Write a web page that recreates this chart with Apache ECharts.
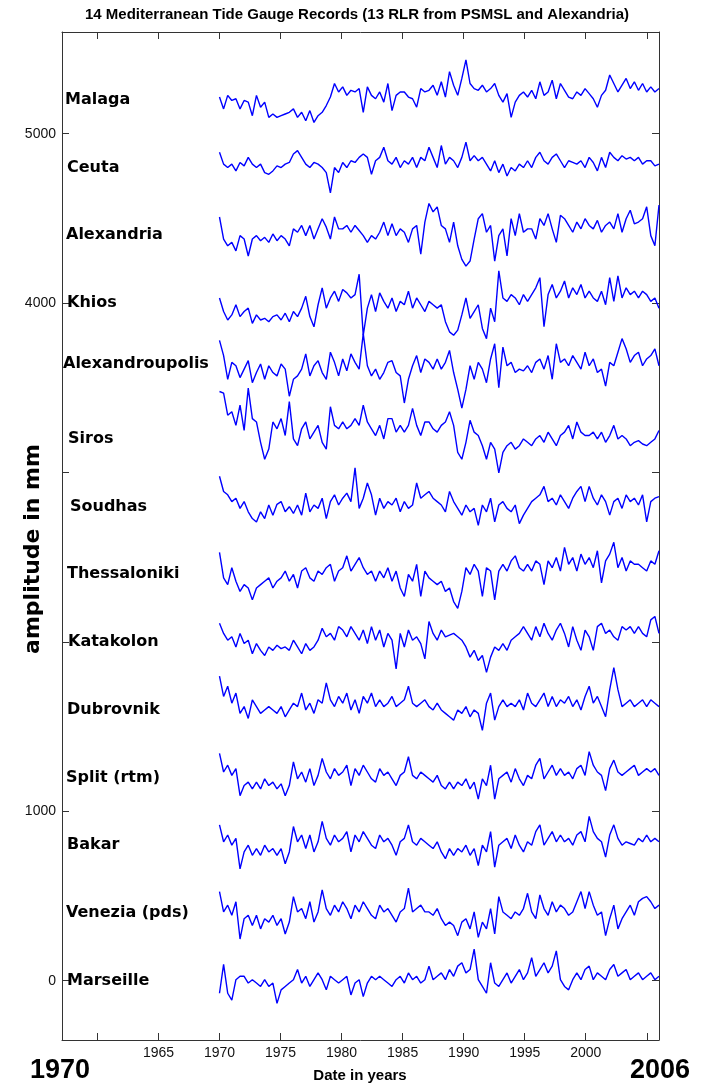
<!DOCTYPE html>
<html>
<head>
<meta charset="utf-8">
<script src="https://cdn.jsdelivr.net/npm/echarts@6/dist/echarts.min.js"></script>
<style>
html,body{margin:0;padding:0;background:#fff;}
#chart{width:704px;height:1086px;}
</style>
</head>
<body>
<div id="chart"></div>
<script>
// Station names (top to bottom) and their vertical offsets in mm
const stations = ["Malaga","Ceuta","Alexandria","Khios","Alexandroupolis","Siros","Soudhas","Thessaloniki","Katakolon","Dubrovnik","Split (rtm)","Bakar","Venezia (pds)","Marseille"];
const offsets = [5200,4800,4400,4000,3640,3200,2800,2400,2000,1600,1200,800,400,0];

// Record span (years) and axis ticks
const startYear = 1970;
const endYear = 2006;
const xTicks = [1960,1965,1970,1975,1980,1985,1990,1995,2000,2005];
const xTickLabels = [1965,1970,1975,1980,1985,1990,1995,2000];
const yTicks = [0,1000,2000,3000,4000,5000];
const yTickLabels = [0,1000,4000,5000];

// Sea-level anomalies (mm), three readings per year, 1970-2006
const malaga = [16,-54,26, -4,6,-54, -4,-14,-94, 26,-44,-14, -104,-84,-104, -94,-84,-74, -54,-104,-74, -124,-64,-134, -94,-74,-34, 16,96,46, 76,26,56, 46,66,-74, 76,26,6, 46,-14,96, -64,26,46, 46,16,6, -44,66,46, 56,86,26, 106,16,166, 86,26,126, 236,96,66, 56,86,46, 66,96,26, -14,36,-104, -14,26,46, 16,56,6, 106,26,46, 116,6,96, 56,16,6, 46,26,66, 36,6,-44, 26,56,146, 96,46,86, 126,66,106, 56,96,46, 76,46,66];
const ceuta = [90,20,0, 20,-20,30, 10,60,20, 0,20,-30, -40,-20,10, 0,20,30, 80,100,60, 20,0,30, 20,0,-30, -150,0,-30, 30,0,40, 30,60,80, 60,-40,40, 60,120,40, 20,60,0, 40,20,60, 0,60,40, 120,60,0, 130,20,60, 40,0,60, 150,40,70, 40,60,20, -20,40,-30, 20,-50,0, -20,20,0, 40,0,60, 90,40,20, 60,80,40, 0,40,30, 20,40,0, 60,30,-20, 60,0,90, 60,40,70, 50,60,40, 60,20,40, 40,10,20];
const alexandria = [108,-22,-62, -42,-92,-2, -22,-122,-22, -2,-32,-12, -42,8,-32, -2,-22,-62, 38,18,58, -2,58,-22, 38,98,48, -22,108,38, 38,58,18, 58,28,-2, -42,-2,-22, 18,78,-2, 68,-2,38, 18,-42,38, 58,-112,78, 188,138,168, 58,38,-42, 78,-62,-142, -182,-152,-22, 98,128,18, 58,-152,-2, 38,-122,98, -2,128,18, 38,38,-22, 98,58,128, 38,-42,118, 98,58,18, 78,38,98, 58,38,88, 18,58,78, 38,128,18, 98,148,68, 78,98,168, -2,-62,178];
const khios = [30,-50,-100, -70,-10,-80, -50,-30,-120, -70,-100,-90, -110,-80,-70, -100,-60,-110, -50,-80,-30, 40,-80,-140, -10,90,-30, 30,70,10, 80,60,30, 50,170,-190, -30,50,-50, 60,10,-30, 30,-50,10, -10,70,-30, 30,-10,-50, 10,-10,-30, -10,-110,-170, -190,-160,-70, 30,-90,-50, -10,-150,-210, -30,-110,190, 30,10,50, 30,-10,50, 10,50,90, 150,-140,50, 110,30,70, 130,30,90, 50,110,30, 70,30,10, 70,-10,150, 10,160,30, 90,50,70, 30,70,50, 10,30,-30];
const alexandroupolis = [140,50,-90, 10,-10,-80, -30,20,-110, -50,0,-90, -10,-50,-70, 0,-30,-190, -90,-70,-30, 60,-70,-10, 20,-50,-90, 70,10,-70, 30,-40,60, 10,-30,180, -10,-70,-30, -90,-50,10, 20,-50,-70, -230,-90,-10, 50,-50,30, 10,-30,30, -30,10,80, -50,-150,-260, -150,-10,-90, 10,-30,-110, 30,120,-140, 100,-10,10, -50,-30,-40, -10,-50,10, 30,-30,50, -90,120,10, 30,-10,50, 10,-30,70, -10,30,-50, -30,-130,10, -10,70,150, 90,10,50, 70,-10,30, 50,90,-10];
const siros = [278,268,138, 158,78,198, 48,298,118, 98,-22,-122, -62,98,58, 118,18,218, -2,-42,58, 98,-2,38, 78,-22,-62, 188,78,58, 98,58,78, 118,78,198, 98,58,18, 78,-2,118, 118,38,78, 38,78,178, 78,18,98, 98,58,38, 78,98,158, 78,-82,-122, -22,108,38, 18,-42,-122, -22,-62,-202, -82,-42,-22, -62,-42,-2, -22,-42,-2, 18,-22,38, -2,-42,18, 38,78,-2, 98,38,18, 18,38,-2, 38,-22,18, 78,-2,18, -2,-42,-22, -12,-32,-42, -22,-2,48];
const soudhas = [178,88,68, 28,48,-12, 28,-32,-72, -92,-32,-72, 8,-52,12, 28,-32,-2, -42,8,-52, 78,-32,8, -12,48,-72, 28,68,8, 48,78,28, 228,-12,48, 138,68,-52, 48,-12,28, 8,48,-32, 28,-12,8, 138,48,68, 88,48,28, 8,-32,88, 28,-12,-52, 8,-32,-12, -112,8,-32, 48,-92,8, 28,-12,-32, 8,-102,-52, -12,28,48, 68,118,28, 48,8,68, 28,-12,48, 88,118,28, 118,48,8, 68,28,-52, 28,48,-12, 68,28,48, 8,68,-92, 28,48,58];
const thessaloniki = [128,-22,-62, 38,-42,-102, -62,-82,-152, -82,-62,-42, -22,-82,-42, -22,18,-42, -2,-82,18, 38,-22,-42, 18,-2,38, 58,-42,18, 38,108,18, 58,98,38, -2,18,-42, 18,-22,38, -42,18,-82, -132,-2,-42, 58,-132,18, -22,-42,-62, -42,-102,-82, -162,-202,-102, 38,-2,58, 18,-132,38, 18,-152,18, 58,18,78, 108,38,18, 58,18,78, 58,-62,78, 38,98,18, 158,58,98, 18,118,58, 98,38,138, -52,78,118, 188,38,98, 18,78,58, 58,38,18, 78,58,138];
const katakolon = [110,50,10, 30,-30,50, -10,10,-70, -10,-50,-80, -30,-50,-20, -40,-30,-50, 10,-30,-70, -10,-50,-30, 10,80,30, 50,10,90, 70,30,90, 50,10,70, -10,90,10, 70,-30,50, 10,-160,50, -30,70,10, 30,-10,-100, 120,50,10, 70,30,40, 50,30,10, -30,-90,-50, -110,-80,-180, -90,-30,-50, -10,-50,10, 30,50,90, 50,10,90, 30,110,50, 10,70,110, 50,-30,90, 10,-50,70, 30,-50,90, 110,50,70, 30,10,90, 70,90,50, 90,50,30, 130,150,50];
const dubrovnik = [198,78,138, 38,98,-22, 18,-52,58, 18,-22,-2, 18,-2,-22, 18,-42,-2, 38,18,98, -2,38,-22, 58,38,158, 58,18,78, 38,98,-2, 58,-22,78, 38,98,18, 58,18,38, 78,18,38, 58,138,38, 18,38,58, 18,-2,38, -2,-22,-42, -62,-2,-22, 18,-42,-2, -22,-122,38, 98,-62,18, 58,18,38, 18,58,-2, 98,38,18, 58,98,18, 78,18,58, 38,78,18, 58,-2,78, 138,38,78, 18,-42,118, 248,118,18, 38,58,18, 38,58,18, 58,38,18];
const split = [142,32,72, 12,52,-108, -48,-28,-68, -28,-68,-8, -48,-28,-68, -38,-108,-48, 92,-8,32, -28,52,-48, 12,112,32, -8,52,12, 32,72,-48, 52,12,72, 32,-8,-28, 52,12,32, -8,-48,12, 32,122,12, -8,32,12, -8,-28,12, -48,-68,-28, -68,-28,-48, -8,-68,-28, -128,-8,-48, 72,-128,-8, 12,32,-28, 52,-8,-48, 12,-8,72, 112,-8,32, 72,12,52, 12,32,-8, 52,72,12, 152,72,32, 12,-78,52, 102,32,12, 32,52,72, 12,32,52, 32,52,12];
const bakar = [120,20,60, 0,40,-140, -40,0,-60, -20,-60,0, -40,-20,-60, -20,-110,-40, 110,20,60, -20,60,-40, 20,140,40, 0,60,20, 40,80,-40, 60,20,80, 40,0,-20, 60,20,40, 0,-60,20, 40,120,20, 0,40,20, 0,-20,20, -40,-80,-20, -60,-20,-40, 0,-60,-20, -120,0,-40, 80,-130,0, 20,40,-20, 60,0,-40, 20,0,80, 120,0,40, 80,20,60, 20,40,0, 60,80,20, 170,80,40, 20,-70,60, 120,40,0, 20,10,0, 40,20,60, 20,40,20];
const venezia = [126,6,46, -14,66,-154, -34,-14,-74, -14,-94,-34, -54,-14,-74, -34,-124,-54, 96,6,26, -34,66,-54, 6,136,26, -14,46,6, 66,26,-34, 46,6,66, 26,-14,-34, 46,6,26, -14,-54,6, 26,146,6, 26,46,6, 6,-14,26, -34,-74,-54, -74,-134,-54, -34,-94,6, -144,-54,-94, 26,-124,96, 6,-14,-34, 6,-14,26, 116,6,-34, 106,26,-14, 66,6,46, 26,-14,6, 66,126,26, 126,46,-14, 6,-134,-34, 46,-94,-34, 6,46,-14, 66,86,96, 66,26,46];
const marseille = [-74,96,-74, -114,6,26, 26,-14,6, -14,-34,6, -34,-14,-134, -54,-34,-14, 6,66,-14, 26,-34,6, 46,6,-54, 26,6,-14, 6,26,-84, -14,6,-94, -14,26,6, 26,6,-14, -34,6,26, -14,46,6, 26,-14,6, 86,6,26, 46,6,66, 26,86,106, 46,66,186, 6,-34,-74, 106,-14,-34, 6,46,-14, 26,66,6, 46,136,26, 66,106,46, 86,176,6, -34,-54,6, 46,6,66, 86,6,46, 26,6,66, 96,26,46, 66,6,26, 46,6,26, 46,6,26];

const records = [malaga, ceuta, alexandria, khios, alexandroupolis, siros, soudhas, thessaloniki, katakolon, dubrovnik, split, bakar, venezia, marseille];

const X_MIN = 1957.1, X_MAX = 2006, Y_MIN = -350, Y_MAX = 5600;
const labelDx = [3,5,4,5,1,6,8,5,6,5,4,5,4,5];

const chart = echarts.init(document.getElementById('chart'), null, {renderer: 'canvas'});

const lineSeries = records.map((vals, s) => {
  const n = vals.length;
  const step = (endYear - startYear) / (n - 1);
  return {
    type: 'line',
    name: stations[s],
    xAxisIndex: 0, yAxisIndex: 0,
    showSymbol: false,
    symbol: 'none',
    silent: true,
    animation: false,
    lineStyle: {color: '#0000ff', width: 1.4},
    data: vals.map((v, i) => [startYear + i * step, offsets[s] + v])
  };
});

const labelSeries = {
  type: 'scatter',
  xAxisIndex: 0, yAxisIndex: 0,
  symbolSize: 0,
  silent: true,
  animation: false,
  itemStyle: {opacity: 1},
  data: stations.map((name, s) => ({
    value: [X_MIN, offsets[s]],
    name: name,
    label: {offset: [labelDx[s], 0]}
  })),
  label: {
    show: true,
    position: 'right',
    distance: 0,
    opacity: 1,
    formatter: p => p.name,
    color: '#000',
    fontFamily: 'DejaVu Sans',
    fontWeight: 'bold',
    fontSize: 16
  }
};

const axisLineStyle = {color: '#333', width: 1};

const option = {
  backgroundColor: '#fff',
  animation: false,
  grid: {left: 62, right: 45, top: 32, bottom: 46, containLabel: false},
  xAxis: [{
    type: 'value', position: 'bottom', min: X_MIN, max: X_MAX,
    axisLine: {show: true, onZero: false, lineStyle: axisLineStyle},
    axisTick: {show: true, inside: true, length: 7, customValues: xTicks, lineStyle: axisLineStyle},
    axisLabel: {show: true, customValues: xTickLabels, margin: 6, color: '#111', fontFamily: 'Liberation Sans Narrow, Liberation Sans, Arial', fontSize: 14, formatter: v => String(v)},
    splitLine: {show: false}
  }, {
    type: 'value', position: 'top', min: X_MIN, max: X_MAX,
    axisLine: {show: true, onZero: false, lineStyle: axisLineStyle},
    axisTick: {show: true, inside: true, length: 7, customValues: xTicks, lineStyle: axisLineStyle},
    axisLabel: {show: false},
    splitLine: {show: false}
  }],
  yAxis: [{
    type: 'value', position: 'left', min: Y_MIN, max: Y_MAX,
    axisLine: {show: true, onZero: false, lineStyle: axisLineStyle},
    axisTick: {show: true, inside: true, length: 7, customValues: yTicks, lineStyle: axisLineStyle},
    axisLabel: {show: true, customValues: yTickLabels, margin: 6, color: '#111', fontFamily: 'Liberation Sans Narrow, Liberation Sans, Arial', fontSize: 14, formatter: v => String(v)},
    splitLine: {show: false}
  }, {
    type: 'value', position: 'right', min: Y_MIN, max: Y_MAX,
    axisLine: {show: true, onZero: false, lineStyle: axisLineStyle},
    axisTick: {show: true, inside: true, length: 7, customValues: yTicks, lineStyle: axisLineStyle},
    axisLabel: {show: false},
    splitLine: {show: false}
  }],
  series: lineSeries.concat([labelSeries]),
  graphic: [
    {type: 'text', x: 357, y: 15, silent: true, style: {text: '14 Mediterranean Tide Gauge Records (13 RLR from PSMSL and Alexandria)', font: 'bold 15px "Liberation Sans Narrow", "Liberation Sans", Arial', fill: '#000', textAlign: 'center', textVerticalAlign: 'middle'}},
    {type: 'text', x: 360, y: 1076, silent: true, style: {text: 'Date in years', font: 'bold 15px "Liberation Sans Narrow", "Liberation Sans", Arial', fill: '#000', textAlign: 'center', textVerticalAlign: 'middle'}},
    {type: 'text', x: 60, y: 1071, silent: true, style: {text: '1970', font: 'bold 27px "Liberation Sans", Arial', fill: '#000', textAlign: 'center', textVerticalAlign: 'middle'}},
    {type: 'text', x: 660, y: 1071, silent: true, style: {text: '2006', font: 'bold 27px "Liberation Sans", Arial', fill: '#000', textAlign: 'center', textVerticalAlign: 'middle'}},
    {type: 'text', x: 33, y: 549, rotation: Math.PI / 2, silent: true, style: {text: 'amplitude in mm', font: 'bold 22px "DejaVu Sans", Arial', fill: '#000', textAlign: 'center', textVerticalAlign: 'middle'}}
  ]
};

chart.setOption(option);
</script>
</body>
</html>
